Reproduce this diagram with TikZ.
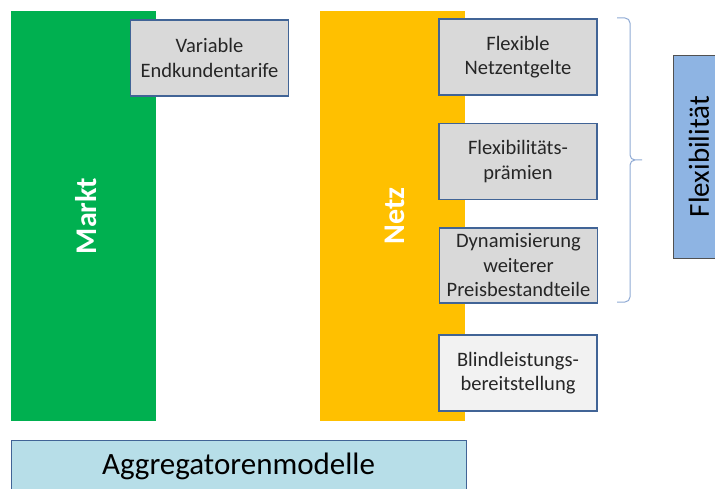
\documentclass[tikz,border=0pt]{standalone}
\usepackage{fontspec}
\setmainfont{Carlito}
\definecolor{mgreen}{RGB}{0,176,80}
\definecolor{nyellow}{RGB}{255,192,0}
\definecolor{boxgray}{RGB}{217,217,217}
\definecolor{boxedge}{RGB}{65,100,150}
\definecolor{aggblue}{RGB}{183,222,232}
\definecolor{flexblue}{RGB}{142,180,227}
\definecolor{bracecol}{RGB}{143,170,212}
\definecolor{txt}{RGB}{38,38,38}
\tikzset{
  pillar/.style={draw=none, minimum width=145pt, minimum height=410pt, inner sep=0pt},
  pillartext/.style={text=white, font=\fontsize{30}{34}\selectfont\bfseries, rotate=90},
  itembox/.style={draw=boxedge, line width=1.3pt, fill=boxgray, minimum width=158pt, minimum height=76pt, inner sep=0pt, align=center, text=txt, font=\fontsize{20.5}{24.5}\selectfont},
}
\begin{document}
\begin{tikzpicture}[x=1pt,y=-1pt]
\useasboundingbox (0,0) rectangle (715,489);
\node[pillar, fill=mgreen] (markt) at (83.5,216) {};
\node[pillartext] (marktlbl) at (86,216) {Markt};
\node[pillar, fill=nyellow] (netz) at (392.5,216) {};
\node[pillartext] (netzlbl) at (395,216) {Netz};
\node[itembox] (vet) at (209.5,58) {Variable\\Endkundentarife};
\node[itembox] (fne) at (518,57) {Flexible\\Netzentgelte};
\node[itembox] (fp) at (518,161.5) {Flexibilitäts-\\prämien};
\node[itembox, minimum height=75pt] (dyn) at (518.5,265.5) {Dynamisierung\\weiterer\\Preisbestandteile};
\node[itembox, fill=white!95!black] (bl) at (518,373) {Blindleistungs-\\bereitstellung};
\node[draw=boxedge, line width=1.3pt, fill=aggblue, minimum width=455pt, minimum height=60pt, inner sep=0pt, anchor=north west] (agg) at (11,440) {};
\node[text=black, font=\fontsize{31}{36}\selectfont] (agglbl) at (238.5,466) {Aggregatorenmodelle};
\node[draw=txt!80, line width=1.3pt, fill=flexblue, minimum width=50pt, minimum height=203pt, inner sep=0pt, anchor=north west] (flex) at (673,55) {};
\node[rotate=90, text=black, font=\fontsize{29}{33}\selectfont, inner sep=0pt] (flexlbl) at (699,156.5) {Flexibilität};
\coordinate (bt) at (617,18);
\coordinate (bb) at (617,302);
\coordinate (btip) at (642,160);
\draw[bracecol, line width=1pt] (bt) -- ++(8,0) to[out=0,in=90] ++(5,5) -- (630,155) to[out=-90,in=180] ++(5,5) -- (btip)
  (bb) -- ++(8,0) to[out=0,in=-90] ++(5,-5) -- (630,165) to[out=90,in=180] ++(5,-5);
\end{tikzpicture}
\end{document}
